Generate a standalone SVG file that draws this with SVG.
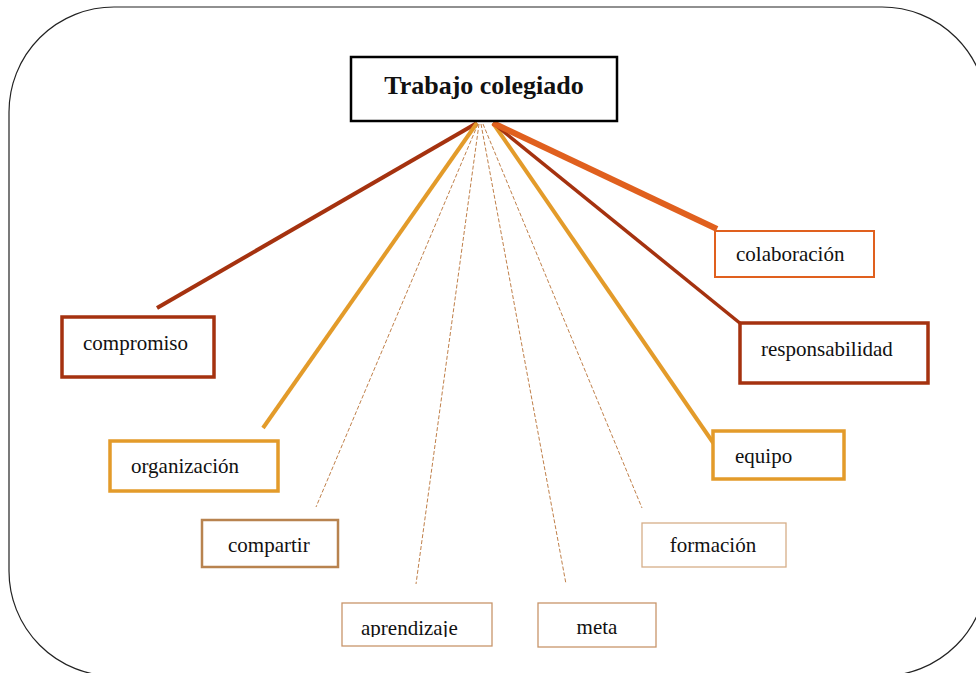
<svg xmlns="http://www.w3.org/2000/svg" width="976" height="673" viewBox="0 0 976 673">
<style>
text{font-family:"Liberation Serif","Times New Roman",serif;font-size:21px;fill:#111}
.title{font-size:26px;font-weight:bold}
rect.n{fill:#fff}
.dash{stroke:#C0804A;stroke-width:1;stroke-dasharray:4 2;fill:none}
</style>
<defs>
<clipPath id="clipA"><rect x="342" y="603" width="150" height="34"/></clipPath>
</defs>
<rect x="9" y="7" width="978" height="669" rx="105" ry="105" fill="#fff" stroke="#222" stroke-width="1.2"/>
<g id="connectors" stroke-linecap="butt">
<line x1="477" y1="123" x2="157" y2="308" stroke="#A5320F" stroke-width="4"/>
<line x1="477" y1="123" x2="263" y2="428" stroke="#E39B2A" stroke-width="4"/>
<line class="dash" x1="478" y1="124" x2="316" y2="507"/>
<line class="dash" x1="479" y1="124" x2="416" y2="584"/>
<line class="dash" x1="481" y1="124" x2="566" y2="584"/>
<line class="dash" x1="483" y1="124" x2="642" y2="508"/>
<line x1="493" y1="123" x2="714" y2="444" stroke="#E39B2A" stroke-width="4"/>
<line x1="493" y1="123" x2="741" y2="324" stroke="#A5320F" stroke-width="3.5"/>
<line x1="493" y1="123" x2="717" y2="229" stroke="#E0601E" stroke-width="6"/>
</g>
<g id="n-trabajo">
<rect class="n" x="351" y="57" width="266" height="64" stroke="#000" stroke-width="2.5"/>
<text class="title" x="484" y="94" text-anchor="middle">Trabajo colegiado</text>
</g>
<g id="n-compromiso">
<rect class="n" x="62" y="317" width="152" height="60" stroke="#A5320F" stroke-width="3.5"/>
<text x="83" y="350">compromiso</text>
</g>
<g id="n-organizacion">
<rect class="n" x="110" y="441" width="168" height="50" stroke="#E39B2A" stroke-width="3.5"/>
<text x="131" y="473">organización</text>
</g>
<g id="n-compartir">
<rect class="n" x="202" y="520" width="136" height="47" stroke="#B8834F" stroke-width="2.5"/>
<text x="228" y="552">compartir</text>
</g>
<g id="n-aprendizaje">
<rect class="n" x="342" y="603" width="150" height="43" stroke="#C8956A" stroke-width="1.3"/>
<text x="361" y="635" clip-path="url(#clipA)">aprendizaje</text>
</g>
<g id="n-meta">
<rect class="n" x="538" y="603" width="118" height="44" stroke="#C8956A" stroke-width="1.3"/>
<text x="597" y="634" text-anchor="middle">meta</text>
</g>
<g id="n-formacion">
<rect class="n" x="642" y="523" width="144" height="44" stroke="#D6AE88" stroke-width="1.3"/>
<text x="713" y="552" text-anchor="middle">formación</text>
</g>
<g id="n-equipo">
<rect class="n" x="713" y="431" width="131" height="48" stroke="#E39B2A" stroke-width="3.5"/>
<text x="735" y="463">equipo</text>
</g>
<g id="n-responsabilidad">
<rect class="n" x="740" y="323" width="188" height="60" stroke="#A5320F" stroke-width="3.5"/>
<text x="761" y="356">responsabilidad</text>
</g>
<g id="n-colaboracion">
<rect class="n" x="715" y="231" width="159" height="46" stroke="#E0601E" stroke-width="2"/>
<text x="736" y="261">colaboración</text>
</g>
</svg>
